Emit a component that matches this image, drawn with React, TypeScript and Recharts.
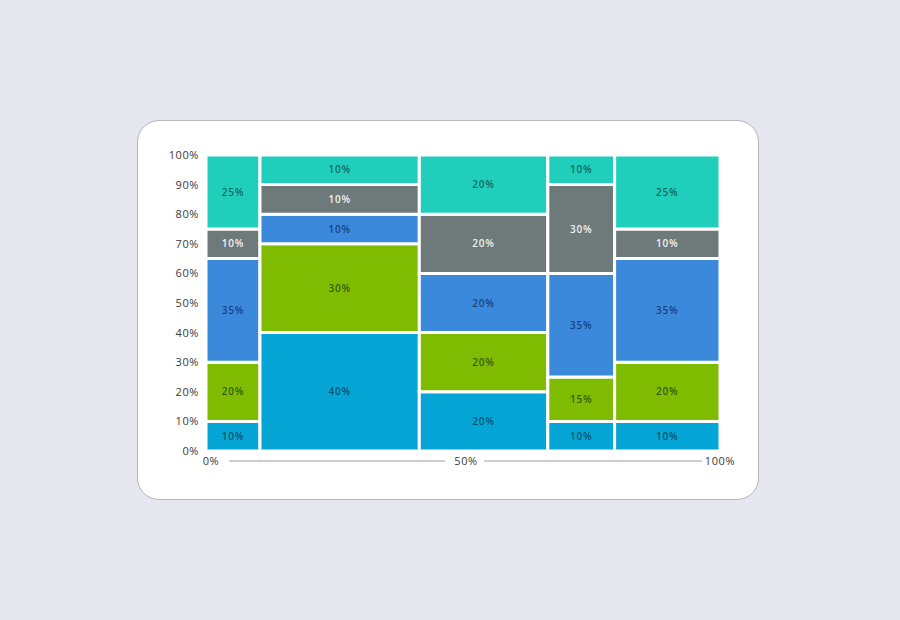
import React from 'react';
import { ComposedChart, XAxis, YAxis, ReferenceArea, Line } from 'recharts';

// column widths (share of the total, %)
const columnShares = [10.5, 31, 25, 13, 20.5];

// segment values per column, bottom to top
const cyanValues = [10, 40, 20, 10, 10];
const greenValues = [20, 30, 20, 15, 20];
const blueValues = [35, 10, 20, 35, 35];
const grayValues = [10, 10, 20, 30, 10];
const tealValues = [25, 10, 20, 10, 25];

const yTicks = [0, 10, 20, 30, 40, 50, 60, 70, 80, 90, 100];
const xTicks = [0, 50, 100];

const series = [
  { key: 'cyan', values: cyanValues, color: '#05a6d6', text: 'rgba(0,20,40,0.62)' },
  { key: 'green', values: greenValues, color: '#7fbb00', text: 'rgba(0,20,20,0.62)' },
  { key: 'blue', values: blueValues, color: '#3a89db', text: 'rgba(0,15,60,0.62)' },
  { key: 'gray', values: grayValues, color: '#6e7a7a', text: 'rgba(255,255,255,0.92)' },
  { key: 'teal', values: tealValues, color: '#1fcfbb', text: 'rgba(0,30,30,0.62)' },
];

const CHART_W = 620;
const CHART_H = 378;
const MARGIN = { top: 34, right: 38, bottom: 18, left: 18 };
const Y_AXIS_W = 50;
const PLOT_W = CHART_W - MARGIN.left - MARGIN.right - Y_AXIS_W;

const FONT = '"Open Sans", "Noto Sans", sans-serif';

// build column ranges and stacked segments
const columns = columnShares.map((share, i) => {
  const x0 = columnShares.slice(0, i).reduce((s, v) => s + v, 0);
  const total = series.reduce((s, ser) => s + ser.values[i], 0);
  return { x0, x1: x0 + share, mid: x0 + share / 2, total };
});

const segments = columns.flatMap((col, ci) => {
  let base = 0;
  return series.map((s) => {
    const v = s.values[ci];
    const seg = { id: `${s.key}-${ci}`, x1: col.x0, x2: col.x1, y1: base, y2: base + v, value: v, color: s.color, text: s.text };
    base += v;
    return seg;
  });
});

const XTick = (props: any) => {
  const { x, y, payload, index } = props;
  const step = PLOT_W / 2;
  const lineY = y + 2;
  const nudge = [5, 3, 0][index] ?? 0;
  return (
    <g>
      <text x={x + nudge} y={lineY} dy="0.35em" textAnchor="middle" fill="#3a3a3a" fontSize={11} fontWeight={500} fontFamily={FONT} letterSpacing={0.6}>
        {`${payload.value}%`}
      </text>
      {payload.value < 100 && (
        <line x1={x + (payload.value === 0 ? 23 : 21)} x2={x + step - 18} y1={lineY} y2={lineY} stroke="#9a9a9a" strokeWidth={1} />
      )}
    </g>
  );
};

const App: React.FC = () => {
  return (
    <div style={{ position: 'fixed', inset: 0, width: 900, height: 620, background: '#e6e7ee' }}>
      <div
        style={{
          position: 'absolute',
          left: 137,
          top: 120,
          width: 622,
          height: 380,
          boxSizing: 'border-box',
          border: '1px solid #b4b5bd',
          borderRadius: 22,
          background: '#ffffff',
        }}
      >
        <ComposedChart width={CHART_W} height={CHART_H} data={columns} margin={MARGIN}>
          <XAxis
            dataKey="mid"
            type="number"
            domain={[0, 100]}
            ticks={xTicks}
            axisLine={false}
            tickLine={false}
            height={30}
            interval={0}
            tick={<XTick />}
          />
          <YAxis
            type="number"
            domain={[0, 100]}
            ticks={yTicks}
            width={Y_AXIS_W}
            axisLine={false}
            tickLine={false}
            tickMargin={1}
            interval={0}
            tickFormatter={(v: number) => `${v}%`}
            tick={{ fill: '#3a3a3a', fontSize: 11, fontWeight: 500, fontFamily: FONT, letterSpacing: 0.6 }}
          />
          {/* invisible series so the axes get scales */}
          <Line dataKey="total" stroke="none" dot={false} activeDot={false} isAnimationActive={false} legendType="none" />
          {segments.map((seg) => (
            <ReferenceArea
              key={seg.id}
              x1={seg.x1}
              x2={seg.x2}
              y1={seg.y1}
              y2={seg.y2}
              fill={seg.color}
              fillOpacity={1}
              stroke="#ffffff"
              strokeWidth={3}
              ifOverflow="visible"
              label={{
                value: `${seg.value}%`,
                position: 'center',
                fill: seg.text,
                fontSize: 10,
                fontWeight: 600,
                fontFamily: FONT,
                letterSpacing: 0.8,
              }}
            />
          ))}
        </ComposedChart>
      </div>
    </div>
  );
};

export default App;
